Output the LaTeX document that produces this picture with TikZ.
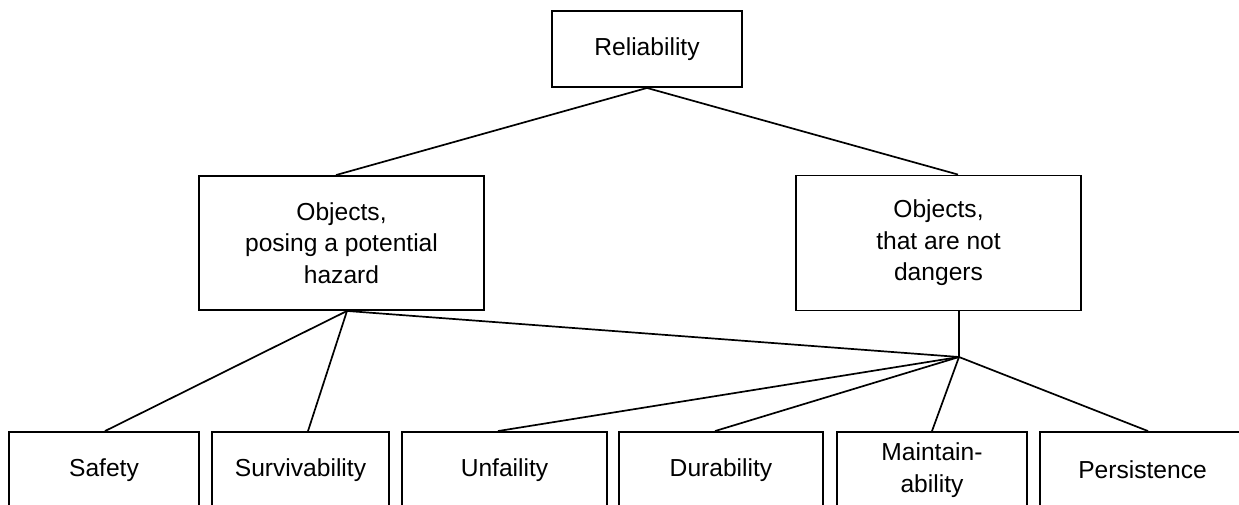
\documentclass[tikz,border=0pt]{standalone}
\usepackage{fontspec}
\setmainfont{Liberation Sans}
\usetikzlibrary{calc}

\begin{document}
\begin{tikzpicture}[
  x=1pt,y=-1pt,
  font=\fontsize{24.6}{31.5}\selectfont,
  box/.style={draw,line width=1.9pt,align=center,inner sep=0pt},
  link/.style={line width=1.7pt}
]
\useasboundingbox (0,0) rectangle (1239,504);
\clip (0,0) rectangle (1239,504);

% -------------------------
% Geometry (rows)
% -------------------------
\def\yTop{49}
\def\yMid{243}
\def\yLow{470}

% -------------------------
% Nodes
% -------------------------
\node[box,minimum width=190,minimum height=76] (rel) at (647,\yTop) {Reliability};

\node[box,minimum width=285,minimum height=134] (lft) at (341.5,\yMid)
  {Objects,\\posing a potential\\hazard};
\node[box,minimum width=285,minimum height=135] (rgt) at (938.5,\yMid)
  {Objects,\\that are not\\dangers};

% bottom row (boxes run past the lower edge)
\node[box,minimum width=190,minimum height=76] (saf) at (104,\yLow)    {Safety};
\node[box,minimum width=177,minimum height=76] (sur) at (300.5,\yLow)  {Survivability};
\node[box,minimum width=205,minimum height=76] (unf) at (504.5,\yLow)  {Unfaility};
\node[box,minimum width=204,minimum height=76] (dur) at (721,\yLow)    {Durability};
\node[box,minimum width=190,minimum height=76] (mnt) at (932,\yLow)    {Maintain-\\ability};
\node[box,minimum width=205,minimum height=76] (per) at (1142.5,\yLow) {Persistence};

% junction below the right box
\coordinate (hub) at (959,357);

% -------------------------
% Connectors
% -------------------------
\draw[link] (rel.south) -- ($(lft.north)+(-5.5,0)$);
\draw[link] (rel.south) -- ($(rgt.north)+(19.5,0)$);

\foreach \b/\dx in {saf/1,sur/7.5} {
  \draw[link] ($(lft.south)+(5.5,0)$) -- ($(\b.north)+(\dx,0)$);
}
\draw[link] ($(lft.south)+(5.5,0)$) -- (hub);
\draw[link] (rgt.south -| hub) -- (hub);

\foreach \b/\dx in {unf/-6.5,dur/-6,mnt/0,per/5.5} {
  \draw[link] (hub) -- ($(\b.north)+(\dx,0)$);
}

\end{tikzpicture}
\end{document}
